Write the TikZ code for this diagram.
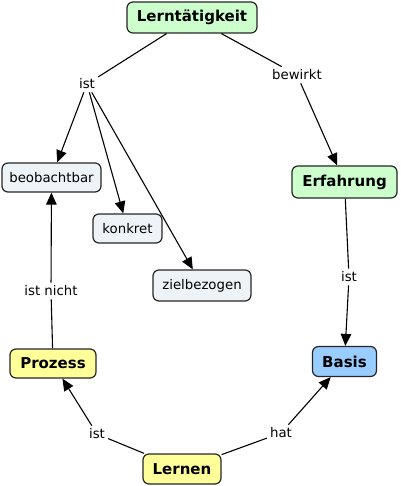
\documentclass[tikz,border=0pt]{standalone}
\usepackage{fontspec}
\setmainfont{DejaVu Sans}
\usetikzlibrary{arrows.meta}
\definecolor{cgreen}{HTML}{CCFFCC}
\definecolor{cgray}{HTML}{EEF3F7}
\definecolor{cyellow}{HTML}{FFFF99}
\definecolor{cblue}{HTML}{99CCFF}
\tikzset{
  concept/.style={draw=black!85, line width=1.2pt, rounded corners=6pt, inner sep=0pt, align=center},
  bold/.style={concept, font=\fontsize{15}{17}\selectfont\bfseries},
  plain/.style={concept, font=\fontsize{13.3}{15}\selectfont},
  lbl/.style={font=\fontsize{13.3}{15}\selectfont, inner sep=3pt, fill=white},
  link/.style={line width=1.1pt, draw=black},
  arr/.style={link, -{Triangle[length=12pt,width=10.5pt]}},
}
\begin{document}
\begin{tikzpicture}[x=1pt,y=-1pt]
\useasboundingbox (0,0) rectangle (400,486);
\node[bold, fill=cgreen, minimum width=130pt, minimum height=31pt] (lt) at (192,17.5) {Lerntätigkeit};
\node[plain, fill=cgray, minimum width=99pt, minimum height=29pt] (beob) at (51.5,177.5) {beobachtbar};
\node[plain, fill=cgray, minimum width=69pt, minimum height=29pt] (konk) at (127.5,228.5) {konkret};
\node[plain, fill=cgray, minimum width=98pt, minimum height=31pt] (ziel) at (202,285.5) {zielbezogen};
\node[bold, fill=cgreen, minimum width=105pt, minimum height=32pt] (erf) at (344.5,182) {Erfahrung};
\node[bold, fill=cblue, minimum width=64pt, minimum height=30pt] (basis) at (344.5,361.5) {Basis};
\node[bold, fill=cyellow, minimum width=86pt, minimum height=29pt] (proz) at (53,363.5) {Prozess};
\node[bold, fill=cyellow, minimum width=78pt, minimum height=30pt] (lernen) at (182,469) {Lernen};

\node[lbl] (l1) at (87,84) {ist};
\node[lbl] (l2) at (297,75) {bewirkt};
\node[lbl] (l3) at (349,277) {ist};
\node[lbl] (l4) at (51,291) {ist nicht};
\node[lbl] (l5) at (97,434) {ist};
\node[lbl] (l6) at (281,433) {hat};

\draw[link] (lt) -- (l1);
\draw[arr] (l1) -- (beob);
\draw[arr] (l1) -- (konk);
\draw[arr] (l1) -- (ziel);
\draw[link] (lt) -- (l2);
\draw[arr] (l2) -- (erf);
\draw[link] (erf) -- (l3);
\draw[arr] (l3) -- (basis);
\draw[link] (proz) -- (l4);
\draw[arr] (l4) -- (beob);
\draw[link] (lernen) -- (l5);
\draw[arr] (l5) -- (proz);
\draw[link] (lernen) -- (l6);
\draw[arr] (l6) -- (basis);
\end{tikzpicture}
\end{document}
